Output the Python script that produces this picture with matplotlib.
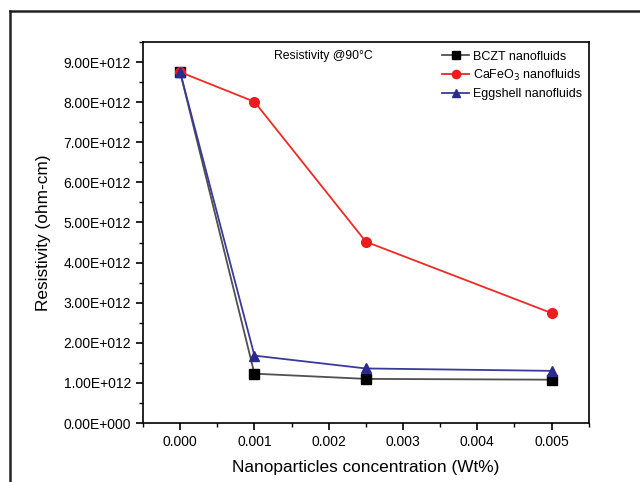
import matplotlib
matplotlib.use("Agg")
import matplotlib.pyplot as plt
from matplotlib.lines import Line2D
from matplotlib.ticker import MultipleLocator

plt.rcParams['font.family'] = ['Liberation Sans', 'DejaVu Sans']

# konsantrasyon (Wt%) ve direnç değerleri (ohm-cm)
konsantrasyon = [0.0, 0.001, 0.0025, 0.005]
bczt = [8.75e12, 1.23e12, 1.10e12, 1.08e12]
cafeo3 = [8.75e12, 8.01e12, 4.52e12, 2.74e12]
eggshell = [8.75e12, 1.68e12, 1.36e12, 1.30e12]

x_ticks = [0.000, 0.001, 0.002, 0.003, 0.004, 0.005]
y_ticks = [0, 1e12, 2e12, 3e12, 4e12, 5e12, 6e12, 7e12, 8e12, 9e12]

fig = plt.figure(figsize=(6.4, 4.82), dpi=100)
ax = fig.add_axes([0.2234, 0.1224, 0.6966, 0.7905])

ax.plot(konsantrasyon, bczt, color='#505050', linewidth=1.3, marker='s',
        markersize=6.5, markerfacecolor='black', markeredgecolor='black',
        label='BCZT nanofluids')
ax.plot(konsantrasyon, cafeo3, color='#ee2a24', linewidth=1.3, marker='o',
        markersize=7, markerfacecolor='#ee1c1c', markeredgecolor='#ee1c1c',
        label='CaFeO$_3$ nanofluids')
ax.plot(konsantrasyon, eggshell, color='#3a3a9c', linewidth=1.3, marker='^',
        markersize=7, markerfacecolor='#2b2b8f', markeredgecolor='#2b2b8f',
        label='Eggshell nanofluids')

ax.set_xlim(-0.0005, 0.0055)
ax.set_ylim(0, 9.5e12)
ax.set_xticks(x_ticks)
ax.set_xticklabels([f"{v:.3f}" for v in x_ticks])
ax.set_yticks(y_ticks)
ax.set_yticklabels(["0.00E+000"] + [f"{v/1e12:.2f}E+012" for v in y_ticks[1:]])
ax.xaxis.set_minor_locator(MultipleLocator(0.0005))
ax.yaxis.set_minor_locator(MultipleLocator(0.5e12))

ax.tick_params(axis='both', which='major', direction='out', length=5,
               width=1.2, labelsize=10, color='black')
ax.tick_params(axis='both', which='minor', direction='out', length=3,
               width=1.0)
ax.tick_params(top=False, right=False)
for s in ax.spines.values():
    s.set_linewidth(1.2)

ax.set_xlabel('Nanoparticles concentration (Wt%)', fontsize=12.4, labelpad=8)
ax.set_ylabel('Resistivity (ohm-cm)', fontsize=12.4, labelpad=9)

ax.text(0.405, 0.963, 'Resistivity @90°C', transform=ax.transAxes,
        fontsize=8.8, ha='center', va='center')

ax.legend(loc='upper left', frameon=False, fontsize=9, handlelength=2.2,
          handletextpad=0.3, labelspacing=0.4, borderaxespad=0.0,
          markerscale=0.85, bbox_to_anchor=(0.659, 0.99))

# dış çerçeve (sol ve üst kenar)
fig.add_artist(Line2D([0.015, 0.015], [0.0, 0.977], transform=fig.transFigure,
                      color='#222222', linewidth=1.8))
fig.add_artist(Line2D([0.015, 1.0], [0.977, 0.977], transform=fig.transFigure,
                      color='#222222', linewidth=1.8))

fig.savefig('out.png', dpi=100)
